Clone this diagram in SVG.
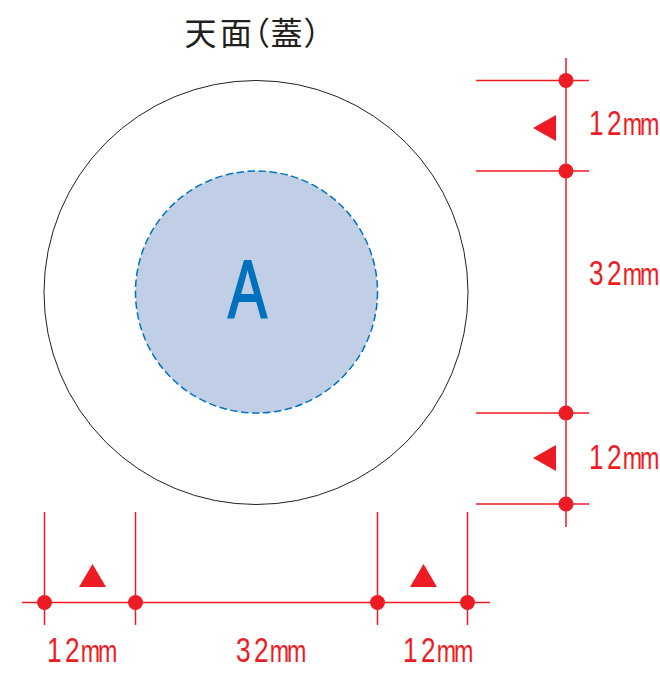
<svg xmlns="http://www.w3.org/2000/svg" width="660" height="681" viewBox="0 0 660 681">
<style>
.dim{stroke:#ed1c24;stroke-width:1.5;fill:none}
.dot{fill:#ed1c24}
.lbl{fill:#ed1c24;font-family:"Liberation Sans",sans-serif;font-size:35px}
.u{font-size:31px}
.title{fill:#231f20;font-family:"Noto Sans CJK JP",sans-serif;font-size:32px}
</style>
<rect width="660" height="681" fill="#fff"/>
<g id="title"><text class="title" x="184.500 220 238 270.500 303.500" y="44.500">天面（蓋）</text></g>
<g id="outer-circle"><circle cx="256" cy="292.500" r="212" fill="#fff" stroke="#231f20" stroke-width="1"/></g>
<g id="inner-circle"><circle cx="256.500" cy="292" r="121" fill="#c0cfe6" stroke="#0071bc" stroke-width="1.500" stroke-dasharray="7.500 3.500"/>
<text x="228" y="317" font-family="Liberation Sans,sans-serif" font-size="81" fill="#0071bc" textLength="39" lengthAdjust="spacingAndGlyphs" stroke="#0071bc" stroke-width="2">A</text></g>
<g id="connectors">
<path class="dim" d="M566 58V527M476 80.500H589M476 171H589M476 413H589M476 504H589"/>
<path class="dim" d="M22 602.500H490M44.500 512V625M135.500 512V625M377.500 512V625M467.500 512V625"/>
</g>
<g id="dots">
<circle class="dot" cx="566" cy="80.500" r="7.500"/><circle class="dot" cx="566" cy="171" r="7.500"/><circle class="dot" cx="566" cy="413" r="7.500"/><circle class="dot" cx="566" cy="504" r="7.500"/>
<circle class="dot" cx="44.500" cy="602.500" r="7.500"/><circle class="dot" cx="135.500" cy="602.500" r="7.500"/><circle class="dot" cx="377.500" cy="602.500" r="7.500"/><circle class="dot" cx="467.500" cy="602.500" r="7.500"/>
</g>
<g id="triangles">
<polygon class="dot" points="533,128 556,115 556,141"/>
<polygon class="dot" points="533,458 556,445 556,471"/>
<polygon class="dot" points="79,587 92.500,564 106,587"/>
<polygon class="dot" points="410,587 423.500,564 437,587"/>
</g>
<g id="labels">
<text class="lbl" transform="translate(589 135) scale(.75 1)" x="0 24 45 68">12<tspan class="u">mm</tspan></text>
<text class="lbl" transform="translate(589 285) scale(.75 1)" x="0 24 45 68">32<tspan class="u">mm</tspan></text>
<text class="lbl" transform="translate(589 469) scale(.75 1)" x="0 24 45 68">12<tspan class="u">mm</tspan></text>
<text class="lbl" transform="translate(47 662) scale(.75 1)" x="0 24 45 68">12<tspan class="u">mm</tspan></text>
<text class="lbl" transform="translate(236 662) scale(.75 1)" x="0 24 45 68">32<tspan class="u">mm</tspan></text>
<text class="lbl" transform="translate(403 662) scale(.75 1)" x="0 24 45 68">12<tspan class="u">mm</tspan></text>
</g>
</svg>
